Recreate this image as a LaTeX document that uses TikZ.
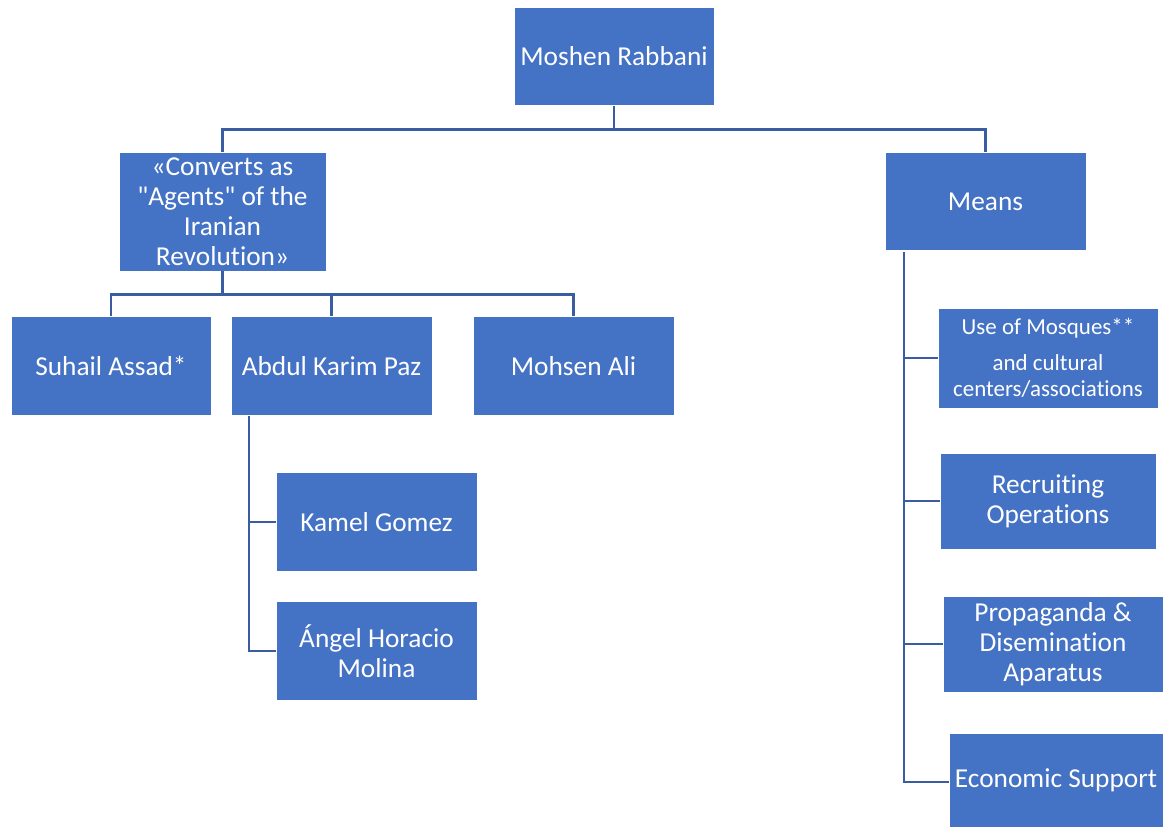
\documentclass[tikz,border=0pt]{standalone}
\usepackage{fontspec}
\setmainfont{Carlito}[Ligatures={TeX,NoCommon}]
\definecolor{boxblue}{HTML}{4472C4}
\definecolor{lineblue}{HTML}{3A5DA2}

\begin{document}
\begin{tikzpicture}[x=0.75pt,y=-0.75pt,
    box/.style={draw=white,line width=0.6pt,fill=boxblue,text=white,align=center,
      inner sep=0pt,minimum width=150pt,minimum height=74pt,
      font=\fontsize{20.5}{22.5}\selectfont},
    small/.style={font=\fontsize{17.2}{19.5}\selectfont},
    conn/.style={draw=lineblue,line width=2pt}]
  \useasboundingbox (0,0) rectangle (1165,828);
  % top level
  \node[box] (root) at (614,56.5) {Moshen Rabbani};
  \node[box,minimum width=155.25pt,minimum height=89.25pt] (conv) at (222.5,211.5)
    {«Converts as\\\textquotedbl Agents\textquotedbl{} of the\\Iranian\\Revolution»};
  \node[box,minimum width=150.75pt] (means) at (985.5,201.5) {Means};
  % converts
  \node[box] (suhail) at (111,366) {Suhail Assad*};
  \node[box,minimum width=150.75pt] (abdul) at (331.5,366) {Abdul Karim Paz};
  \node[box,minimum width=150.75pt] (mohsen) at (573.5,366) {Mohsen Ali};
  \node[box,minimum width=150.75pt] (kamel) at (376.5,522) {Kamel Gomez};
  \node[box,minimum width=150.75pt] (angel) at (376.5,651) {Ángel Horacio\\Molina};
  % means
  \node[box,small,minimum width=165pt,minimum height=75pt] (mosq) at (1048,358)
    {Use of Mosques**\\[7pt]and cultural\\centers/associations};
  \node[box,minimum width=162pt,minimum height=72pt] (recr) at (1048,501)
    {Recruiting\\Operations};
  \node[box,minimum width=165pt,minimum height=72pt] (prop) at (1053,644)
    {Propaganda \&\\Disemination\\Aparatus};
  \node[box,minimum width=160.5pt,minimum height=70.5pt] (econ) at (1056,780)
    {Economic Support};
  % connectors
  \coordinate (atrunk) at (249,416);
  \coordinate (mtrunk) at (904,252);
  \draw[conn] (root.south) -- ++(0,23) -| (conv.north);
  \draw[conn] (root.south) -- ++(0,23) -| (means.north);
  \draw[conn] (conv.south) -- ++(0,23) -| (suhail.north);
  \draw[conn] (conv.south) -- ++(0,23) -| (abdul.north);
  \draw[conn] (conv.south) -- ++(0,23) -| (mohsen.north);
  \draw[conn] (atrunk) |- (kamel.west);
  \draw[conn] (atrunk) |- (angel.west);
  \draw[conn] (mtrunk) |- (mosq.west);
  \draw[conn] (mtrunk) |- (recr.west);
  \draw[conn] (mtrunk) |- (prop.west);
  \draw[conn] (mtrunk) |- ([yshift=-1.5pt]econ.west);
\end{tikzpicture}
\end{document}
